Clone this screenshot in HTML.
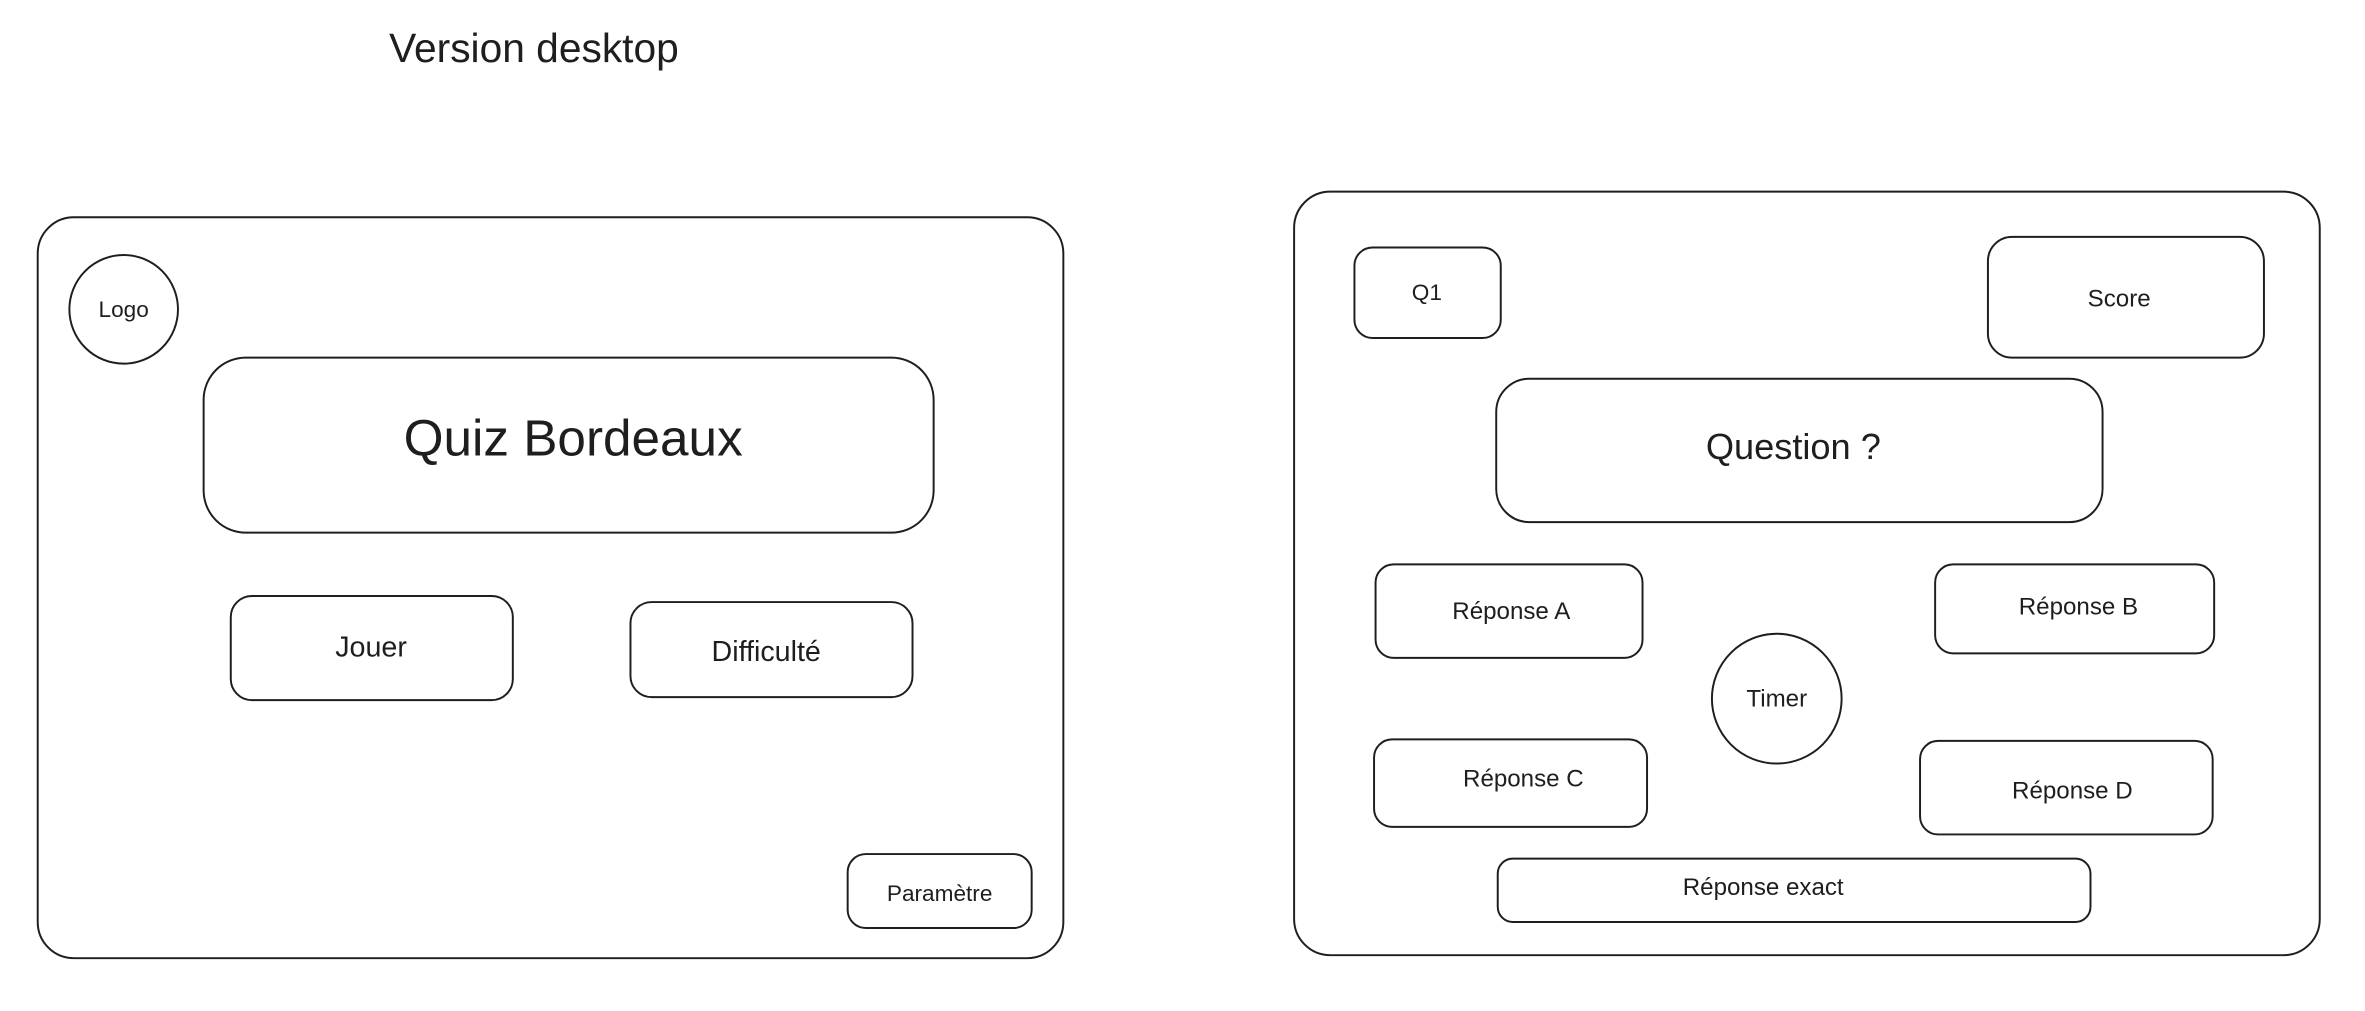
<!DOCTYPE html>
<html><head><meta charset="utf-8"><style>
html,body{margin:0;padding:0;background:#fff;width:2365px;height:1011px;overflow:hidden}
svg{display:block}
text{font-family:"Liberation Sans",sans-serif;fill:#1e1e1e;text-anchor:middle;dominant-baseline:middle}
rect,circle{fill:none;stroke:#1e1e1e;stroke-width:1.3}
</style></head><body>
<svg width="2365" height="1011" viewBox="0 0 1568 670" preserveAspectRatio="none">
<text x="354" y="34" font-size="27">Version desktop</text>
<rect x="25" y="144" width="680" height="491" rx="24"/>
<circle cx="82" cy="205" r="36"/>
<text x="82" y="206" font-size="15">Logo</text>
<rect x="135" y="237" width="484" height="116" rx="28"/>
<text x="380" y="293" font-size="34">Quiz Bordeaux</text>
<rect x="153" y="395" width="187" height="69" rx="14"/>
<text x="246" y="430" font-size="19">Jouer</text>
<rect x="418" y="399" width="187" height="63" rx="14"/>
<text x="508" y="433" font-size="19">Difficulté</text>
<rect x="562" y="566" width="122" height="49" rx="12"/>
<text x="623" y="593" font-size="15">Paramètre</text>
<rect x="858" y="127" width="680" height="506" rx="24"/>
<rect x="898" y="164" width="97" height="60" rx="12"/>
<text x="946" y="195" font-size="15">Q1</text>
<rect x="1318" y="157" width="183" height="80" rx="16"/>
<text x="1405" y="199" font-size="16">Score</text>
<rect x="992" y="251" width="402" height="95" rx="22"/>
<text x="1189" y="298" font-size="24">Question ?</text>
<rect x="912" y="374" width="177" height="62" rx="12"/>
<text x="1002" y="406" font-size="16">Réponse A</text>
<rect x="1283" y="374" width="185" height="59" rx="12"/>
<text x="1378" y="403" font-size="16">Réponse B</text>
<circle cx="1178" cy="463" r="43"/>
<text x="1178" y="464" font-size="16">Timer</text>
<rect x="911" y="490" width="181" height="58" rx="12"/>
<text x="1010" y="517" font-size="16">Réponse C</text>
<rect x="1273" y="491" width="194" height="62" rx="12"/>
<text x="1374" y="525" font-size="16">Réponse D</text>
<rect x="993" y="569" width="393" height="42" rx="10"/>
<text x="1169" y="589" font-size="16">Réponse exact</text>
</svg>
</body></html>
